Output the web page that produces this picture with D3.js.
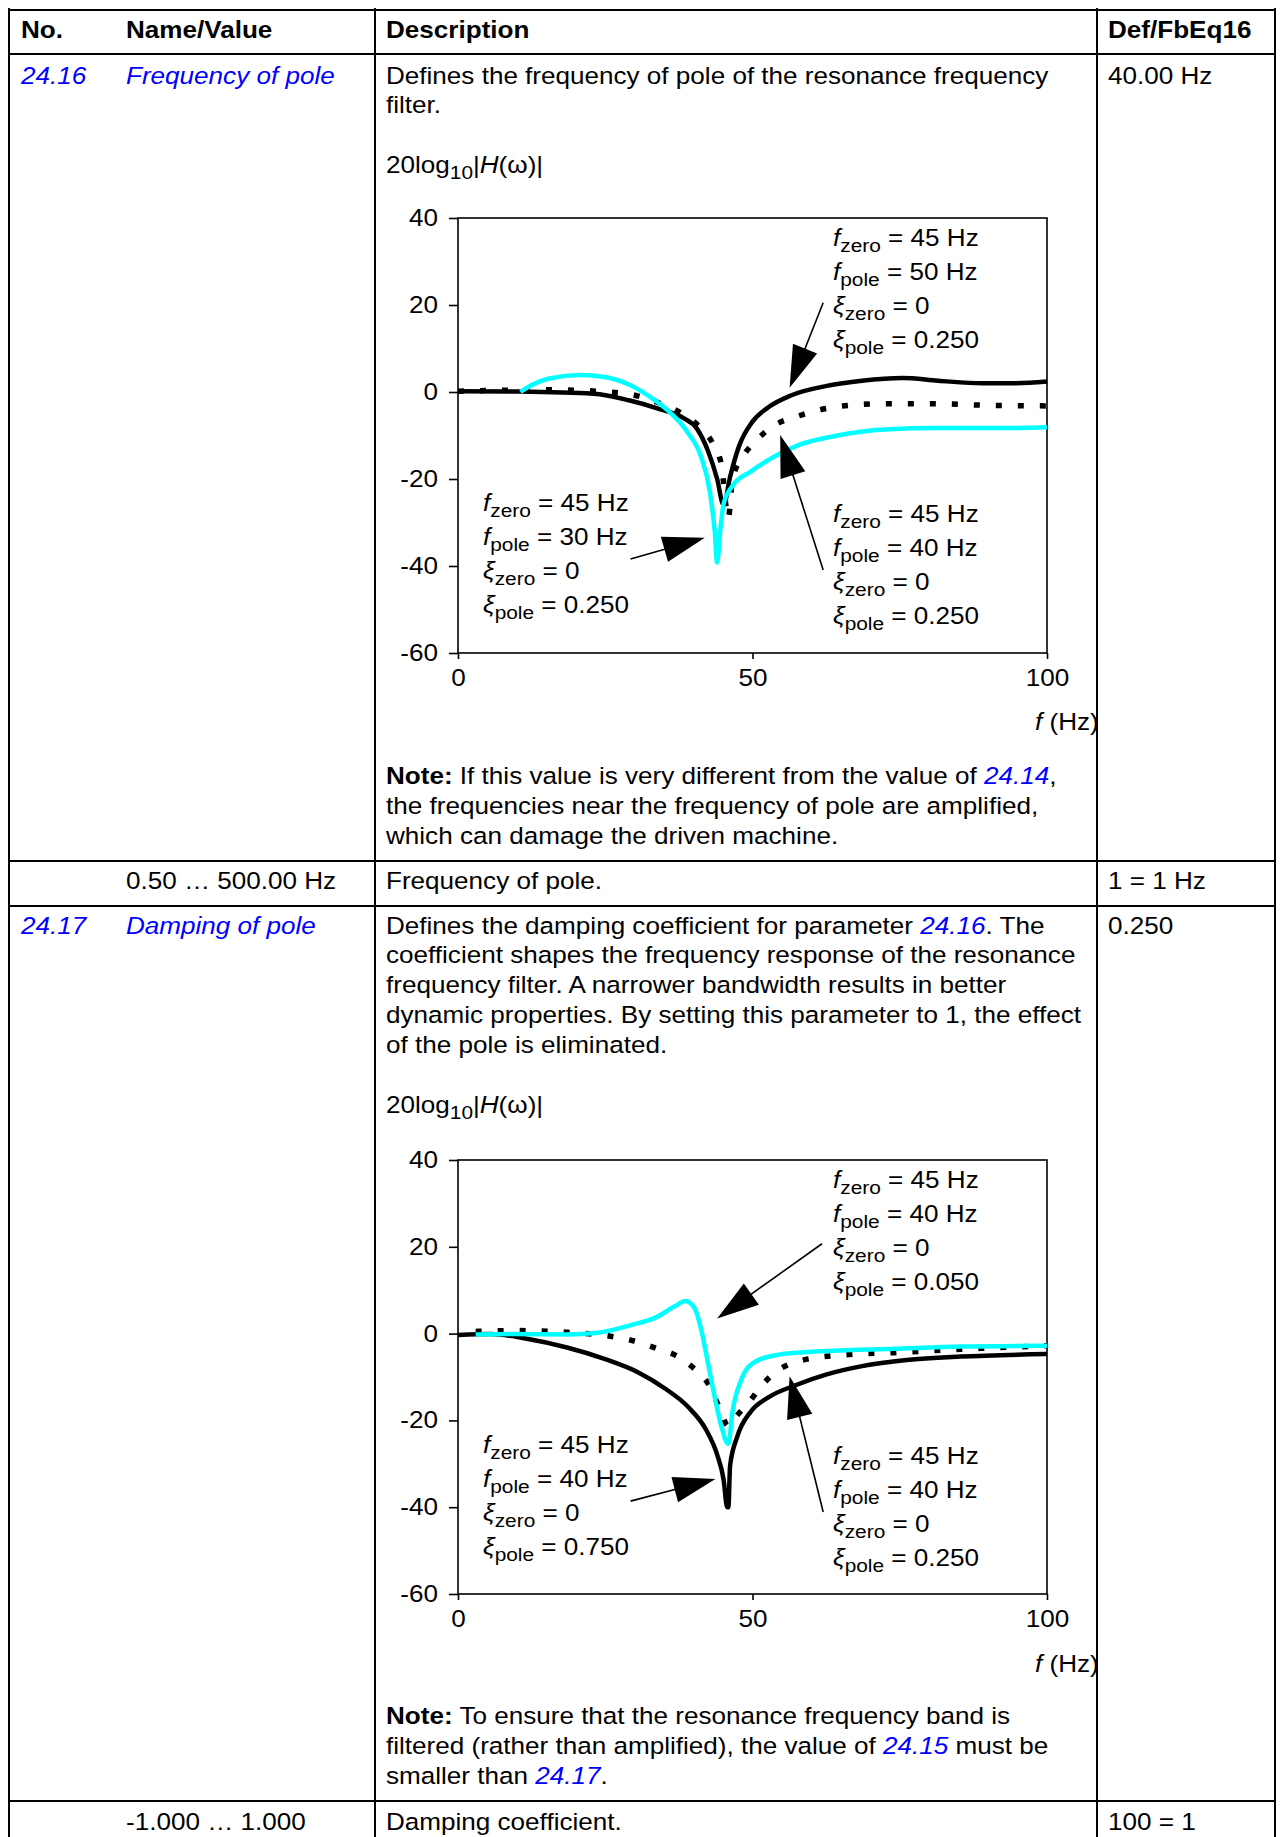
<!DOCTYPE html>
<html>
<head>
<meta charset="utf-8">
<script src="https://cdn.jsdelivr.net/npm/d3@7"></script>
<style>
  html, body { margin: 0; padding: 0; background: #fff; }
  svg text { font-family: "Liberation Sans", Arial, sans-serif; }
</style>
</head>
<body>
<svg id="page" width="1280" height="1837"></svg>
<script>
// --- data ---
const yTicks = [40, 20, 0, -20, -40, -60];
const xTicks = [0, 50, 100];

// chart 1 : f_zero = 45 Hz, different f_pole
const pole50 = [[0,0.2],[10,0.1],[23,-0.4],[29,-1.9],[33.7,-3.7],[38.3,-6],[40.5,-8.3],[42.4,-13.4],[44,-20],[45.1,-26],[46.2,-19.5],[47.7,-12.5],[50,-6.8],[52.7,-3.5],[56.5,-0.8],[62.6,1.4],[68.6,2.6],[75.5,3.2],[81.5,2.6],[89,2.0],[94.5,2.0],[100,2.4]];
const pole40 = [[0,0.2],[15.5,0.5],[27.6,-0.2],[33.7,-2.3],[38.3,-5.2],[41.3,-8.4],[43.2,-11.7],[44.7,-16.6],[45.9,-29],[46.6,-20],[48.5,-14.6],[50.8,-10.9],[53.8,-7.6],[57.6,-5.6],[64.8,-3.3],[72.4,-2.7],[80.8,-2.7],[88.4,-3],[100,-3.2]];
const pole30 = [[10.6,0],[12.5,1.6],[15.5,3.1],[20.8,3.9],[24.6,3.5],[29.2,1.6],[33,-1.5],[36,-4.7],[39,-9.3],[41.3,-15],[42.8,-23.2],[43.6,-32.2],[44,-39.2],[44.5,-32.2],[45.1,-25.7],[46.6,-21.6],[49.7,-18.3],[53.5,-15],[58,-12.1],[64,-10.1],[72.4,-8.6],[81.5,-8.3],[91.4,-8.3],[100,-8.1]];

// chart 2 : f_zero = 45 Hz, f_pole = 40 Hz, different damping
const damp075 = [[0,-0.3],[5.6,-0.1],[11.7,-1.2],[18.5,-3.2],[24.6,-5.7],[30.7,-9],[35.2,-12.7],[39,-16.8],[42.1,-22.1],[44,-27.9],[45.1,-33.7],[45.7,-40],[45.9,-40],[46.2,-30.4],[47.4,-23.8],[49.7,-18],[52.7,-14.7],[57.3,-11.9],[62.6,-9.4],[68.6,-7.5],[76.2,-6.1],[85.3,-5.3],[100,-4.7]];
const damp025 = [[3,0.5],[9.4,0.7],[18.5,0.3],[25.4,-0.5],[29.9,-1.7],[33.7,-3.4],[36.8,-4.9],[39.8,-7.7],[42.4,-11.4],[44.3,-16.8],[45.9,-21.3],[47.4,-18.8],[49.3,-16],[51.6,-11.9],[54.2,-8.6],[58,-6.3],[65.6,-4.9],[74,-4.4],[85.3,-3.6],[100,-2.8]];
const damp005 = [[3,-0.2],[9.4,-0.1],[18.5,-0.2],[23.8,0.2],[29.2,1.9],[33.7,3.8],[36.8,6.3],[38.6,7.5],[40.2,5.8],[41.3,0.9],[42.4,-6.5],[43.6,-14.7],[44.7,-21.3],[45.9,-25.4],[46.6,-18],[48.1,-10.6],[50.4,-6.5],[54.2,-4.9],[62.6,-4],[74,-3.5],[85.3,-3],[100,-2.8]];

// annotation texts [symbol, subscript, rest]
const c1TopLabel = [["f","zero"," = 45 Hz"],["f","pole"," = 50 Hz"],["ξ","zero"," = 0"],["ξ","pole"," = 0.250"]];
const c1LeftLabel = [["f","zero"," = 45 Hz"],["f","pole"," = 30 Hz"],["ξ","zero"," = 0"],["ξ","pole"," = 0.250"]];
const c1RightLabel = [["f","zero"," = 45 Hz"],["f","pole"," = 40 Hz"],["ξ","zero"," = 0"],["ξ","pole"," = 0.250"]];
const c2TopLabel = [["f","zero"," = 45 Hz"],["f","pole"," = 40 Hz"],["ξ","zero"," = 0"],["ξ","pole"," = 0.050"]];
const c2LeftLabel = [["f","zero"," = 45 Hz"],["f","pole"," = 40 Hz"],["ξ","zero"," = 0"],["ξ","pole"," = 0.750"]];
const c2RightLabel = [["f","zero"," = 45 Hz"],["f","pole"," = 40 Hz"],["ξ","zero"," = 0"],["ξ","pole"," = 0.250"]];

// arrows [tail, tip] in chart units (Hz, dB)
const c1Arrows = [[[62,20.5],[56.3,1.0]], [[29.3,-38.4],[41.9,-33.5]], [[62,-40.9],[54.7,-9.9]]];
const c2Arrows = [[[61.8,20.7],[44,3.5]], [[29.3,-38.6],[43.7,-33.5]], [[62,-41.1],[56.3,-9.8]]];

// --- style ---
const BLUE = "#0000ff";
const CYAN = "#00ffff";
const FS = 23.5;     // font size
const SX = 1.11;     // horizontal stretch of the reference text
const LH = 29.8;     // body line height

const svg = d3.select("#page");

// text helper: parts are strings or {t, link, it, b, sub}
function line(g, x, y, parts, o = {}) {
    const size = o.size || FS;
    const t = g.append("text")
        .attr("transform", `translate(${x},${y}) scale(${SX},1)`)
        .attr("font-size", size).attr("fill", "#000");
    if (o.anchor) t.attr("text-anchor", o.anchor);
    if (o.bold) t.attr("font-weight", "bold");
    if (typeof parts === "string") parts = [parts];
    let lowered = false;
    parts.forEach(p => {
        if (typeof p === "string") p = { t: p };
        const s = t.append("tspan").text(p.t);
        if (p.link) s.attr("fill", BLUE).attr("font-style", "italic");
        if (p.it) s.attr("font-style", "italic");
        if (p.b) s.attr("font-weight", "bold");
        if (p.sub) { s.attr("font-size", size * 0.8).attr("dy", 6); lowered = true; }
        else if (lowered) { s.attr("dy", -6); lowered = false; }
    });
    return t;
}

function block(g, x, y, lines, step) {
    lines.forEach((l, i) => line(g, x, y + i * step, l));
}

// --- table ---
const colX = [9, 375, 1097, 1275];
const rowY = [10, 54, 861, 906, 1801];
const grid = svg.append("g").attr("stroke", "#000").attr("stroke-width", 2);
rowY.forEach(y => grid.append("line").attr("x1", colX[0] - 1).attr("x2", colX[3] + 1).attr("y1", y).attr("y2", y));
colX.forEach(x => grid.append("line").attr("x1", x).attr("x2", x).attr("y1", 8).attr("y2", 1837));

const T = svg.append("g");
// header
line(T, 21, 37.5, "No.", { bold: true });
line(T, 126, 37.5, "Name/Value", { bold: true });
line(T, 386, 37.5, "Description", { bold: true });
line(T, 1108, 37.5, "Def/FbEq16", { bold: true });

// row 24.16
line(T, 21, 83.5, [{ t: "24.16", link: true }]);
line(T, 126, 83.5, [{ t: "Frequency of pole", link: true }]);
block(T, 386, 83.5, ["Defines the frequency of pole of the resonance frequency", "filter."], LH);
line(T, 1108, 83.5, "40.00 Hz");
line(T, 386, 172.5, ["20log", { t: "10", sub: true }, "|", { t: "H", it: true }, "(ω)|"]);
line(T, 1035, 730, [{ t: "f", it: true }, " (Hz)"]);
block(T, 386, 784, [
    [{ t: "Note:", b: true }, " If this value is very different from the value of ", { t: "24.14", link: true }, ","],
    "the frequencies near the frequency of pole are amplified,",
    "which can damage the driven machine."
], LH);

// range row
line(T, 126, 889, "0.50 … 500.00 Hz");
line(T, 386, 889, "Frequency of pole.");
line(T, 1108, 889, "1 = 1 Hz");

// row 24.17
line(T, 21, 933.5, [{ t: "24.17", link: true }]);
line(T, 126, 933.5, [{ t: "Damping of pole", link: true }]);
block(T, 386, 933.5, [
    ["Defines the damping coefficient for parameter ", { t: "24.16", link: true }, ". The"],
    "coefficient shapes the frequency response of the resonance",
    "frequency filter. A narrower bandwidth results in better",
    "dynamic properties. By setting this parameter to 1, the effect",
    "of the pole is eliminated."
], LH);
line(T, 1108, 933.5, "0.250");
line(T, 386, 1113, ["20log", { t: "10", sub: true }, "|", { t: "H", it: true }, "(ω)|"]);
line(T, 1035, 1671.5, [{ t: "f", it: true }, " (Hz)"]);
block(T, 386, 1724, [
    [{ t: "Note:", b: true }, " To ensure that the resonance frequency band is"],
    ["filtered (rather than amplified), the value of ", { t: "24.15", link: true }, " must be"],
    ["smaller than ", { t: "24.17", link: true }, "."]
], LH);

// range row
line(T, 126, 1829.5, "-1.000 … 1.000");
line(T, 386, 1829.5, "Damping coefficient.");
line(T, 1108, 1829.5, "100 = 1");

// --- charts ---
function drawChart(top, bottom, solid, dotted, cyan, labels, arrows) {
    const g = svg.append("g");
    const x = d3.scaleLinear().domain([0, 100]).range([458, 1047]);
    const y = d3.scaleLinear().domain([-60, 40]).range([bottom, top]);

    g.append("rect").attr("x", x(0)).attr("y", y(40))
        .attr("width", x(100) - x(0)).attr("height", y(-60) - y(40))
        .attr("fill", "none").attr("stroke", "#000").attr("stroke-width", 1.6);

    const ya = g.append("g").attr("transform", `translate(${x(0)},0)`)
        .call(d3.axisLeft(y).tickValues(yTicks).tickSize(9).tickPadding(9).tickFormat(d3.format("d")));
    const xa = g.append("g").attr("transform", `translate(0,${y(-60)})`)
        .call(d3.axisBottom(x).tickValues(xTicks).tickSize(6).tickPadding(10));
    [ya, xa].forEach(a => {
        a.select(".domain").remove();
        a.attr("font-size", FS).attr("font-family", null);
        a.selectAll("line").attr("stroke-width", 1.6);
        a.selectAll("text").attr("transform", `scale(${SX},1)`).attr("fill", "#000");
    });
    ya.selectAll("text").text(d => d < 0 ? "-" + Math.abs(d) : d);

    const path = d3.line().x(d => x(d[0])).y(d => y(d[1])).curve(d3.curveMonotoneX);
    g.append("path").datum(solid).attr("d", path).attr("fill", "none")
        .attr("stroke", "#000").attr("stroke-width", 4.5);
    g.append("path").datum(dotted).attr("d", path).attr("fill", "none")
        .attr("stroke", "#000").attr("stroke-width", 5.5).attr("stroke-dasharray", "6,16");
    g.append("path").datum(cyan).attr("d", path).attr("fill", "none")
        .attr("stroke", CYAN).attr("stroke-width", 4.5);

    // arrows
    arrows.forEach(([a, b]) => {
        const x1 = x(a[0]), y1 = y(a[1]), x2 = x(b[0]), y2 = y(b[1]);
        const L = Math.hypot(x2 - x1, y2 - y1), ux = (x2 - x1) / L, uy = (y2 - y1) / L;
        const hl = 42, hw = 13;
        const bx = x2 - ux * hl, by = y2 - uy * hl;
        g.append("line").attr("x1", x1).attr("y1", y1).attr("x2", bx + ux * 4).attr("y2", by + uy * 4)
            .attr("stroke", "#000").attr("stroke-width", 1.6);
        g.append("polygon").attr("fill", "#000")
            .attr("points", [[x2, y2], [bx - uy * hw, by + ux * hw], [bx + uy * hw, by - ux * hw]].join(" "));
    });

    // labels: [top-right, bottom-left, bottom-right]
    const spots = [[833, top + 27.5], [483, top + 293], [833, top + 304]];
    labels.forEach((lab, i) => {
        const rows = lab.map(([s, sub, rest]) => [{ t: s, it: true }, { t: sub, sub: true }, rest]);
        block(g, spots[i][0], spots[i][1], rows, 34);
    });
}

drawChart(218, 653, pole50, pole40, pole30, [c1TopLabel, c1LeftLabel, c1RightLabel], c1Arrows);
drawChart(1160, 1594, damp075, damp025, damp005, [c2TopLabel, c2LeftLabel, c2RightLabel], c2Arrows);
</script>
</body>
</html>
